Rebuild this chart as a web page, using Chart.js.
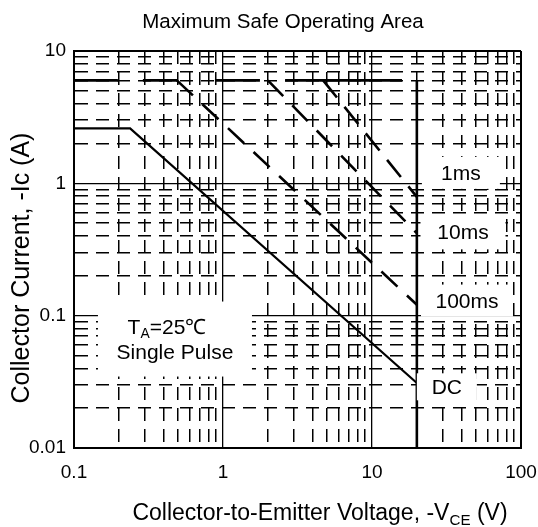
<!DOCTYPE html>
<html><head><meta charset="utf-8">
<script src="https://cdn.jsdelivr.net/npm/chart.js@4.4.1/dist/chart.umd.min.js"></script>
<style>html,body{margin:0;padding:0;background:#fff;} canvas{display:block;}</style>
</head><body>
<canvas id="c" width="538" height="527"></canvas>
<script>
// ---- data ----
const xTicks = [0.1,0.2,0.3,0.4,0.5,0.6,0.7,0.8,0.9,1,2,3,4,5,6,7,8,9,10,20,30,40,50,60,70,80,90,100];
const yTicks = [0.01,0.02,0.03,0.04,0.05,0.06,0.07,0.08,0.09,0.1,0.2,0.3,0.4,0.5,0.6,0.7,0.8,0.9,1,2,3,4,5,6,7,8,9,10];
const dcV = [0.1, 0.238, 20];
const dcI = [2.6, 2.6, 0.031];
const ms100V = [0.49, 20];
const ms100I = [6, 0.121];
const ms10V = [2.0, 20];
const ms10I = [6, 0.42];
const ms1V = [4.7, 20];
const ms1I = [6, 0.79];
const icpV = [0.1, 0.197, 0.24, 0.29, 0.499, 0.66, 0.883, 1.77, 2.1, 2.61, 15.9];
const icpI = [6, 6, null, 6, 6, null, 6, 6, null, 6, 6];
const vceV = [20, 20];
const vceI = [6, 0.01];
const labelNames = ['1ms', '10ms', '100ms', 'DC'];
const labelV = [39.5, 40.8, 43.4, 31.8];
const labelI = [1.2, 0.43, 0.13, 0.029];
const noteV = 0.476;
const noteI = 0.066;

// ---- styles ----
const FONT = '"Liberation Sans", Arial, Helvetica, sans-serif';
const boxW = [78, 85, 92, 60];
const boxH = [32, 35, 32, 27];

const pts = (xs, ys) => xs.map((v, i) => ({x: v, y: ys[i]}));
const isDecade = v => Math.abs(Math.log10(v) - Math.round(Math.log10(v))) < 1e-9;

function drawRich(ctx, parts, cx, cy, size) {
  let total = 0;
  const ws = parts.map(p => {
    ctx.font = (p.sub ? size * 0.66 : size) + 'px ' + FONT;
    const w = ctx.measureText(p.t).width; total += w; return w;
  });
  let x = cx - total / 2;
  ctx.textAlign = 'left'; ctx.textBaseline = 'alphabetic'; ctx.fillStyle = '#000';
  parts.forEach((p, i) => {
    ctx.font = (p.sub ? size * 0.66 : size) + 'px ' + FONT;
    ctx.fillText(p.t, x, cy + size * 0.36 + (p.sub ? size * 0.2 : 0));
    x += ws[i];
  });
}

const overlay = {
  id: 'overlay',
  afterDatasetsDraw(chart) {
    const ctx = chart.ctx, xs = chart.scales.x, ys = chart.scales.y;
    ctx.save();
    labelNames.forEach((t, i) => {
      const px = xs.getPixelForValue(labelV[i]), py = ys.getPixelForValue(labelI[i]);
      ctx.fillStyle = '#fff';
      ctx.fillRect(px - boxW[i] / 2, py - boxH[i] / 2, boxW[i], boxH[i]);
      drawRich(ctx, [{t}], px, py, 21);
    });
    const nx = xs.getPixelForValue(noteV), ny = ys.getPixelForValue(noteI);
    ctx.fillStyle = '#fff';
    ctx.fillRect(nx - 77, ny - 38, 154, 75);
    drawRich(ctx, [{t: 'T'}, {t: 'A', sub: true}, {t: '=25℃'}], nx - 8, ny - 13, 21);
    drawRich(ctx, [{t: 'Single Pulse'}], nx, ny + 12, 21);
    ctx.restore();
  },
  afterDraw(chart) {
    const ctx = chart.ctx;
    ctx.save();
    drawRich(ctx, [{t: 'Maximum Safe Operating Area'}], 283, 21, 20.5);
    drawRich(ctx, [{t: 'Collector-to-Emitter Voltage, -V'}, {t: 'CE', sub: true}, {t: ' (V)'}], 320, 512, 23);
    ctx.translate(20, 268);
    ctx.rotate(-Math.PI / 2);
    drawRich(ctx, [{t: 'Collector Current, -Ic (A)'}], 0, 0, 25);
    ctx.restore();
  }
};

const lineDs = (data, w, dash) => ({data, borderColor: '#000', borderWidth: w, borderDash: dash,
  pointRadius: 0, fill: false, tension: 0, spanGaps: false, borderCapStyle: 'butt'});

const gridFor = (edgeMin, edgeMax, tickLen) => ({
  color: '#000',
  drawTicks: tickLen > 0,
  tickLength: tickLen,
  tickColor: 'rgba(0,0,0,0)',
  lineWidth: c => {
    const v = c.tick && c.tick.value;
    if (v === undefined) return 1;
    if (Math.abs(v - edgeMax) < 1e-9 || Math.abs(v - edgeMin) < 1e-9) return 2;
    return isDecade(v) ? 1.3 : 1.5;
  }
});
const borderFor = () => ({
  color: '#000', width: 2,
  dash: c => (c.tick && !isDecade(c.tick.value)) ? [13, 8] : []
});

new Chart(document.getElementById('c'), {
  type: 'line',
  data: {
    datasets: [
      lineDs(pts(icpV, icpI), 2.6, []),
      lineDs(pts(vceV, vceI), 2.6, []),
      lineDs(pts(dcV, dcI), 2.2, []),
      lineDs(pts(ms100V, ms100I), 2.6, [22, 13]),
      lineDs(pts(ms10V, ms10I), 2.6, [22, 13]),
      lineDs(pts(ms1V, ms1I), 2.6, [22, 12])
    ]
  },
  options: {
    responsive: false,
    animation: false,
    devicePixelRatio: 1,
    layout: {padding: {top: 51, right: 17, left: 0, bottom: 0}},
    plugins: {legend: {display: false}, tooltip: {enabled: false}, title: {display: false}},
    scales: {
      x: {
        type: 'logarithmic', min: 0.1, max: 100,
        afterBuildTicks: s => { s.ticks = xTicks.map(v => ({value: v})); },
        afterFit: s => { s.height = 79; },
        ticks: {autoSkip: false, maxRotation: 0, color: '#000', padding: 0,
          font: {size: 19, family: FONT},
          callback: v => isDecade(v) ? String(+v.toPrecision(3)) : ''},
        grid: gridFor(0.1, 100, 13),
        border: borderFor()
      },
      y: {
        type: 'logarithmic', min: 0.01, max: 10,
        afterBuildTicks: s => { s.ticks = yTicks.map(v => ({value: v})); },
        afterFit: s => { s.width = 74; },
        ticks: {autoSkip: false, color: '#000', padding: 8,
          font: {size: 19, family: FONT},
          callback: v => isDecade(v) ? String(+v.toPrecision(3)) : ''},
        grid: gridFor(0.01, 10, 0),
        border: borderFor()
      }
    }
  },
  plugins: [overlay]
});
</script>
</body></html>
